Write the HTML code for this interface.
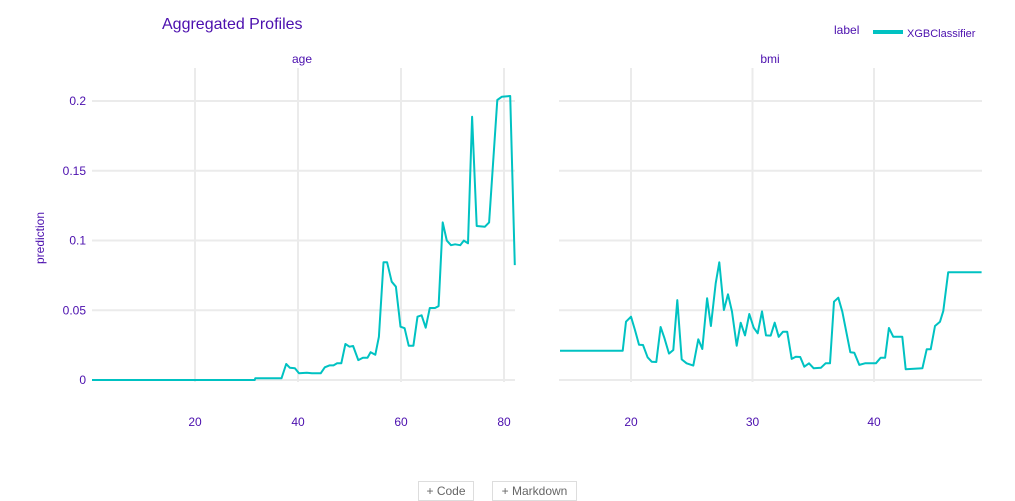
<!DOCTYPE html>
<html><head><meta charset="utf-8"><style>
body{margin:0;background:#fff;width:1015px;height:496px;overflow:hidden;font-family:"Liberation Sans",sans-serif}
svg text{font-family:"Liberation Sans",sans-serif}
.btn{position:absolute;top:481px;height:20px;border:1px solid #ddd;color:#666;font-size:12px;line-height:18px;text-align:center;background:#fff;box-sizing:border-box}
</style></head><body>
<svg id="chart" width="1015" height="496" style="position:absolute;left:0;top:0">
<text x="162" y="29" font-size="16" fill="#4b0fae">Aggregated Profiles</text>
<text x="834" y="34" font-size="12" fill="#4b0fae">label</text>
<line x1="873" y1="32" x2="903" y2="32" stroke="#00c2c2" stroke-width="4"/>
<text x="907" y="37" font-size="11" fill="#4b0fae">XGBClassifier</text>
<text x="44" y="238" font-size="12" fill="#4b0fae" transform="rotate(-90 44 238)" text-anchor="middle">prediction</text>
<text x="302" y="63" font-size="12" fill="#4b0fae" text-anchor="middle">age</text>
<text x="770" y="63" font-size="12" fill="#4b0fae" text-anchor="middle">bmi</text>
<g id="g"></g>
</svg>
<div class="btn" style="left:418px;width:56px">+ Code</div>
<div class="btn" style="left:492px;width:85px">+ Markdown</div>
<script>
const yTicks=[0,0.05,0.1,0.15,0.2];
const yTickLabels=["0","0.05","0.1","0.15","0.2"];
const ageTicks=[20,40,60,80];
const bmiTicks=[20,30,40];
const ageX=[0,31.6,31.7,36.8,37.7,38.4,39.4,40.2,41.7,42.7,44.4,45.2,46.1,46.9,47.6,48.4,49.2,50.0,50.7,51.7,52.6,53.5,54.1,55.0,55.7,56.6,57.3,58.2,59.0,59.9,60.7,61.5,62.4,63.2,64.0,64.8,65.6,66.6,67.3,68.1,68.9,69.7,70.5,71.5,72.2,73.0,73.8,74.7,76.3,77.1,78.7,79.6,81.2,82.1];
const ageY=[0,0,0.0012,0.0012,0.0115,0.0088,0.0084,0.0048,0.0052,0.0048,0.0048,0.0091,0.0105,0.0105,0.012,0.012,0.0258,0.0239,0.0244,0.0143,0.016,0.016,0.0199,0.0181,0.031,0.0844,0.0844,0.0705,0.0669,0.0382,0.0371,0.0246,0.0246,0.0454,0.0464,0.0375,0.0516,0.0516,0.053,0.113,0.0999,0.0966,0.0973,0.0966,0.0999,0.098,0.1887,0.1104,0.1099,0.113,0.2007,0.2031,0.2036,0.0824];
const bmiX=[14.16,19.32,19.59,20,20.33,20.66,20.99,21.37,21.70,22.08,22.44,22.74,23.13,23.48,23.81,24.17,24.58,25.13,25.54,25.87,26.26,26.58,26.97,27.27,27.65,27.98,28.31,28.70,29.03,29.38,29.74,30.10,30.43,30.78,31.11,31.50,31.83,32.16,32.51,32.86,33.23,33.56,33.93,34.26,34.65,35.04,35.64,36.02,36.38,36.71,37.06,37.39,38.05,38.38,38.79,39.26,40.16,40.55,40.91,41.23,41.59,42.33,42.61,43.98,44.34,44.67,45.02,45.43,45.70,46.11,48.86];
const bmiY=[0.021,0.021,0.0418,0.0454,0.0358,0.0253,0.0251,0.0163,0.0131,0.0129,0.038,0.0303,0.0189,0.0215,0.0573,0.0148,0.012,0.0103,0.0292,0.0222,0.0586,0.0387,0.0693,0.0844,0.0502,0.0614,0.049,0.0246,0.0411,0.032,0.0473,0.0375,0.0335,0.0492,0.032,0.0318,0.0411,0.031,0.0346,0.0346,0.0151,0.0167,0.0165,0.0095,0.012,0.0084,0.0088,0.012,0.012,0.0561,0.059,0.049,0.0199,0.0196,0.0108,0.012,0.012,0.016,0.016,0.0373,0.031,0.031,0.0077,0.0084,0.022,0.022,0.0387,0.0418,0.0495,0.0772,0.0772];
const NS='http://www.w3.org/2000/svg';
const g=document.getElementById('g');
const yS=v=>380-v*1395;
const panels=[
 {name:'age',x0:92,x1:515,sx:v=>195+(v-20)*5.15,ticks:ageTicks,xs:ageX,ys:ageY,showY:true},
 {name:'bmi',x0:559,x1:982,sx:v=>631+(v-20)*12.15,ticks:bmiTicks,xs:bmiX,ys:bmiY,showY:false}];
function mk(t,a){const e=document.createElementNS(NS,t);for(const k in a)e.setAttribute(k,a[k]);g.appendChild(e);return e;}
panels.forEach(p=>{
 yTicks.forEach((t,i)=>{
  const l=mk('line',{x1:p.x0,x2:p.x1,y1:yS(t),y2:yS(t),stroke:'#ebebeb','stroke-width':2});
  
  
  if(p.showY){const tx=mk('text',{x:86,y:yS(t)+4,'font-size':12,fill:'#4b0fae','text-anchor':'end'});tx.textContent=yTickLabels[i];
   
   }
 });
 p.ticks.forEach(t=>{
  const l=mk('line',{x1:p.sx(t),x2:p.sx(t),y1:68,y2:382,stroke:'#ebebeb','stroke-width':2});
  
  
  const tx=mk('text',{x:p.sx(t),y:426,'font-size':12,fill:'#4b0fae','text-anchor':'middle'});tx.textContent=t;
  
  
 });
 const pts=p.xs.map((v,i)=>p.sx(v).toFixed(1)+','+yS(p.ys[i]).toFixed(1)).join(' ');
 const pl=mk('polyline',{points:pts,fill:'none',stroke:'#00c2c2','stroke-width':2,'stroke-linejoin':'round'});
 
 
});
</script>
</body></html>
